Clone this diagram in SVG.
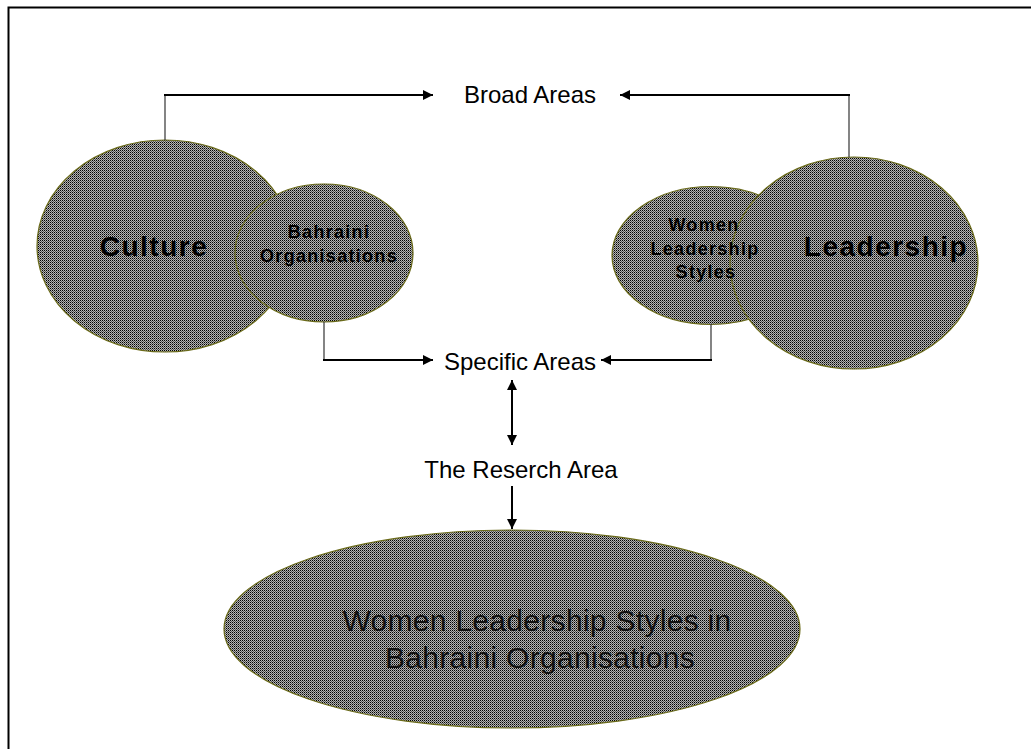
<svg xmlns="http://www.w3.org/2000/svg" width="1031" height="749" viewBox="0 0 1031 749">
<style>
.shape{fill:url(#chk);stroke:#6b6b1a;stroke-width:1.2}
.lbl{font-family:"Liberation Sans",Arial,sans-serif;font-size:24px;fill:#000;text-anchor:middle}
.big{font-family:"Liberation Sans",Arial,sans-serif;font-size:28px;font-weight:bold;letter-spacing:1.5px;fill:#000;text-anchor:middle}
.small{font-family:"Liberation Sans",Arial,sans-serif;font-size:18px;font-weight:bold;letter-spacing:1.3px;fill:#000;text-anchor:middle}
.res{font-family:"Liberation Sans",Arial,sans-serif;font-size:30px;letter-spacing:0.3px;fill:#111;text-anchor:middle}
.thick{fill:none;stroke:#000;stroke-width:2}
.thin{fill:none;stroke:#333;stroke-width:1.2}
</style>
<defs>
<pattern id="chk" width="2" height="2" patternUnits="userSpaceOnUse">
<rect x="0" y="0" width="2" height="2" fill="#b4b4b4"/>
<rect x="0" y="0" width="1" height="1" fill="#000"/>
<rect x="1" y="1" width="1" height="1" fill="#555"/>
</pattern>
<marker id="ah" markerWidth="10" markerHeight="10" refX="10" refY="5" orient="auto-start-reverse" markerUnits="userSpaceOnUse">
<path d="M0,0 L10,5 L0,10 Z" fill="#000"/>
</marker>
</defs>
<rect width="1031" height="749" fill="#fff"/>
<path d="M8.5,749 L8.5,7.5 L1031,7.5" fill="none" stroke="#000" stroke-width="2"/>

<g id="culture">
<ellipse class="shape" cx="165" cy="246" rx="128" ry="106"/>
<text class="big" x="154" y="256">Culture</text>
</g>
<g id="bahraini">
<ellipse class="shape" cx="324" cy="253" rx="89" ry="69"/>
<text class="small" x="329" y="238">Bahraini</text>
<text class="small" x="329" y="262">Organisations</text>
</g>
<g id="women">
<ellipse class="shape" cx="711" cy="255.5" rx="99" ry="69"/>
</g>
<g id="leadership">
<ellipse class="shape" cx="854" cy="263" rx="124" ry="106"/>
<text class="big" x="886" y="256">Leadership</text>
</g>
<g id="women-text">
<text class="small" x="704" y="231">Women</text>
<text class="small" x="705" y="255">Leadership</text>
<text class="small" x="706" y="278">Styles</text>
</g>
<g id="broad"><text class="lbl" x="530" y="103">Broad Areas</text></g>
<g id="specific"><text class="lbl" x="520" y="370">Specific Areas</text></g>
<g id="research"><text class="lbl" x="521" y="478">The Reserch Area</text></g>
<g id="result">
<ellipse class="shape" cx="512" cy="629" rx="288" ry="99"/>
<text class="res" x="537" y="631">Women Leadership Styles in</text>
<text class="res" x="540" y="668">Bahraini Organisations</text>
</g>

<g id="connectors">
<path class="thin" d="M165,140 L165,95"/>
<path class="thick" d="M164,95 L433,95" marker-end="url(#ah)"/>
<path class="thin" d="M849,157 L849,95"/>
<path class="thick" d="M850,95 L620,95" marker-end="url(#ah)"/>
<path class="thin" d="M324,322 L324,360"/>
<path class="thick" d="M323,360 L433,360" marker-end="url(#ah)"/>
<path class="thin" d="M711,324 L711,360"/>
<path class="thick" d="M712,360 L601,360" marker-end="url(#ah)"/>
<path class="thick" d="M512,380 L512,445" stroke-width="2.5" marker-start="url(#ah)" marker-end="url(#ah)"/>
<path class="thick" d="M512,486 L512,529" marker-end="url(#ah)"/>
</g>
</svg>
